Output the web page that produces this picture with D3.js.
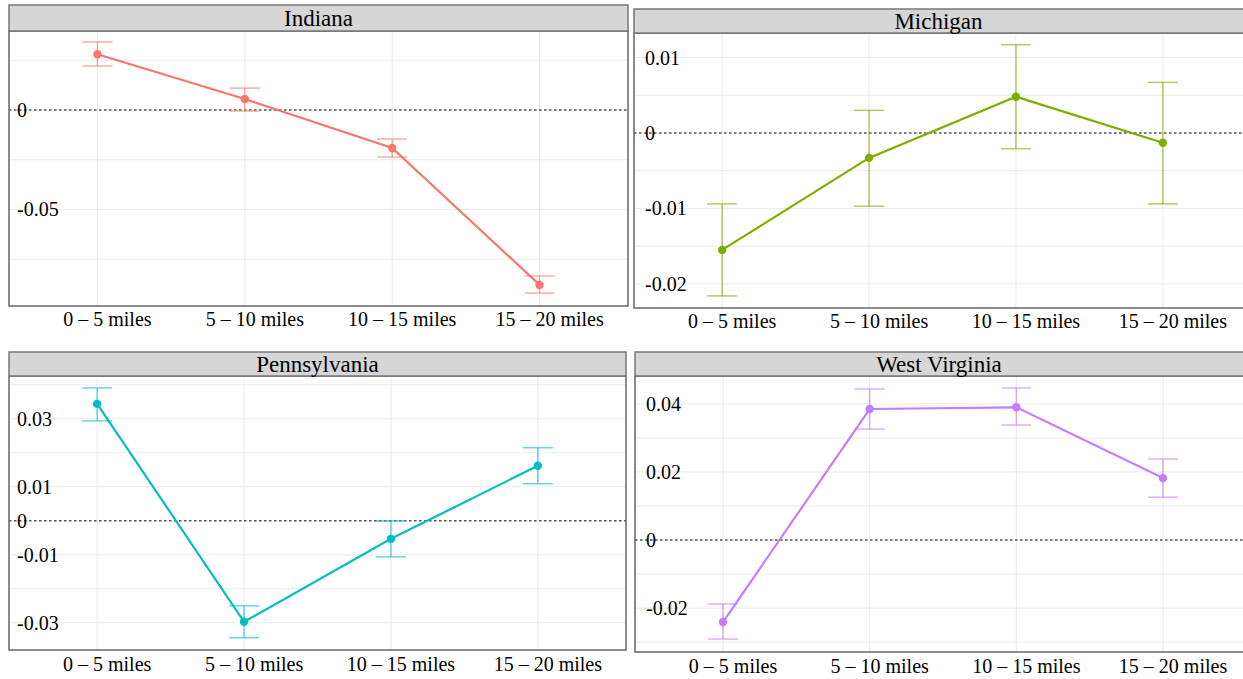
<!DOCTYPE html>
<html lang="en">

<head>
    <meta charset="UTF-8">
    <script src="https://d3js.org/d3.v7.min.js"></script>
    <style>
        html,
        body {
            margin: 0;
            padding: 0;
            background: #fff;
            overflow: hidden
        }

        svg text {
            font-family: "Liberation Serif", "Times New Roman", serif;
            fill: #000;
        }

        .grid line {
            stroke: #ebebeb;
            stroke-width: 1px;
        }

        .zero {
            stroke: #555;
            stroke-width: 1.4px;
            stroke-dasharray: 2.5 2.5;
        }

        .strip rect {
            fill: #d6d6d6;
            stroke: #777;
            stroke-width: 1.5px;
        }

        .frame {
            fill: none;
            stroke: #666;
            stroke-width: 1.5px;
        }
    </style>
</head>

<body>
    <svg id="chart" width="1243" height="679"></svg>
    <script>
        const categories = ["0 – 5 miles", "5 – 10 miles", "10 – 15 miles", "15 – 20 miles"];
        const states = ["Indiana", "Michigan", "Pennsylvania", "West Virginia"];
        const colors = ["#F8766D", "#7CAE00", "#00BFC4", "#C77CFF"];

        // point estimates and interval ends, per state
        const indianaEst = [0.0280, 0.0055, -0.0191, -0.0879];
        const indianaLow = [0.0221, -0.0005, -0.0236, -0.0920];
        const indianaHigh = [0.0342, 0.0110, -0.0146, -0.0834];

        const michiganEst = [-0.0155, -0.0033, 0.0048, -0.0013];
        const michiganLow = [-0.0216, -0.0097, -0.0021, -0.0094];
        const michiganHigh = [-0.0094, 0.0030, 0.0117, 0.0067];

        const pennEst = [0.0344, -0.0297, -0.0053, 0.0162];
        const pennLow = [0.0294, -0.0344, -0.0106, 0.0109];
        const pennHigh = [0.0391, -0.0250, 0.0000, 0.0215];

        const wvEst = [-0.0241, 0.0385, 0.0390, 0.0182];
        const wvLow = [-0.0291, 0.0326, 0.0338, 0.0126];
        const wvHigh = [-0.0188, 0.0444, 0.0447, 0.0238];

        // y axis limits, grid lines and labelled ticks
        const indianaLimits = [-0.0985, 0.0397];
        const michiganLimits = [-0.0232, 0.01325];
        const pennLimits = [-0.0380, 0.0426];
        const wvLimits = [-0.0329, 0.0482];

        const indianaGrid = [0.025, 0, -0.025, -0.05, -0.075];
        const michiganGrid = [0.01, 0.005, 0, -0.005, -0.01, -0.015, -0.02];
        const pennGrid = [0.04, 0.03, 0.02, 0.01, 0, -0.01, -0.02, -0.03];
        const wvGrid = [0.04, 0.03, 0.02, 0.01, 0, -0.01, -0.02, -0.03];

        const indianaTicks = [0, -0.05];
        const michiganTicks = [0.01, 0, -0.01, -0.02];
        const pennTicks = [0.03, 0.01, 0, -0.01, -0.03];
        const wvTicks = [0.04, 0.02, 0, -0.02];

        const series = [
            { est: indianaEst, low: indianaLow, high: indianaHigh, lim: indianaLimits, grid: indianaGrid, ticks: indianaTicks },
            { est: michiganEst, low: michiganLow, high: michiganHigh, lim: michiganLimits, grid: michiganGrid, ticks: michiganTicks },
            { est: pennEst, low: pennLow, high: pennHigh, lim: pennLimits, grid: pennGrid, ticks: pennTicks },
            { est: wvEst, low: wvLow, high: wvHigh, lim: wvLimits, grid: wvGrid, ticks: wvTicks }
        ];

        // panel boxes (the picture is a collage, so they are not quite aligned)
        const panels = [
            { x0: 9, x1: 628, top: 5, strip: 26, bottom: 306, labelY: 319 },
            { x0: 634, x1: 1251, top: 9, strip: 24, bottom: 308, labelY: 321 },
            { x0: 9, x1: 626, top: 352, strip: 24, bottom: 650, labelY: 664 },
            { x0: 635, x1: 1251, top: 352, strip: 24, bottom: 652, labelY: 666 }
        ];

        const svg = d3.select("#chart");
        // plain hyphen for negatives, as in the original
        const fmt = d => String(d);

        states.forEach((name, i) => {
            const p = panels[i], s = series[i], col = colors[i];
            const plotTop = p.top + p.strip;
            const right = Math.min(p.x1, 1243);

            const x = d3.scalePoint().domain(categories).range([p.x0, p.x1]).padding(0.6);
            const y = d3.scaleLinear().domain(s.lim).range([p.bottom, plotTop]);

            const g = svg.append("g");

            const grid = g.append("g").attr("class", "grid");
            grid.selectAll(".h").data(s.grid).join("line")
                .attr("x1", p.x0).attr("x2", right)
                .attr("y1", d => y(d)).attr("y2", d => y(d));
            grid.selectAll(".v").data(categories).join("line")
                .attr("x1", d => x(d)).attr("x2", d => x(d))
                .attr("y1", plotTop).attr("y2", p.bottom);

            g.append("line").attr("class", "zero")
                .attr("x1", p.x0).attr("x2", right)
                .attr("y1", y(0)).attr("y2", y(0));

            // y labels sit inside the panel
            g.selectAll(".yt").data(s.ticks).join("text")
                .attr("x", p.x0 + (i % 2 === 0 ? 8 : 11))
                .attr("y", d => y(d))
                .attr("dy", "0.35em")
                .attr("font-size", 20)
                .text(fmt);

            const pts = categories.map((c, k) => ({ c, est: s.est[k], low: s.low[k], high: s.high[k] }));

            const bars = g.append("g")
                .attr("stroke", col).attr("stroke-width", 1.4).attr("stroke-opacity", 0.65);
            bars.selectAll(".stem").data(pts).join("line")
                .attr("x1", d => x(d.c)).attr("x2", d => x(d.c))
                .attr("y1", d => y(d.low)).attr("y2", d => y(d.high));
            bars.selectAll(".capLo").data(pts).join("line")
                .attr("x1", d => x(d.c) - 15).attr("x2", d => x(d.c) + 15)
                .attr("y1", d => y(d.low)).attr("y2", d => y(d.low));
            bars.selectAll(".capHi").data(pts).join("line")
                .attr("x1", d => x(d.c) - 15).attr("x2", d => x(d.c) + 15)
                .attr("y1", d => y(d.high)).attr("y2", d => y(d.high));

            g.append("path").datum(pts)
                .attr("fill", "none").attr("stroke", col).attr("stroke-width", 2.2)
                .attr("d", d3.line().x(d => x(d.c)).y(d => y(d.est)));

            g.selectAll(".pt").data(pts).join("circle")
                .attr("cx", d => x(d.c)).attr("cy", d => y(d.est))
                .attr("r", 4.2).attr("fill", col);

            g.append("rect").attr("class", "frame")
                .attr("x", p.x0).attr("y", plotTop)
                .attr("width", p.x1 - p.x0).attr("height", p.bottom - plotTop);

            const strip = g.append("g").attr("class", "strip");
            strip.append("rect")
                .attr("x", p.x0).attr("y", p.top)
                .attr("width", p.x1 - p.x0).attr("height", p.strip);
            strip.append("text")
                .attr("x", (p.x0 + p.x1) / 2 - (i % 2 === 1 ? 4 : 0))
                .attr("y", p.top + p.strip / 2)
                .attr("dy", "0.36em")
                .attr("text-anchor", "middle")
                .attr("font-size", 23)
                .text(name);

            g.selectAll(".xl").data(categories).join("text")
                .attr("x", d => x(d) + 10)
                .attr("y", p.labelY)
                .attr("dy", "0.35em")
                .attr("text-anchor", "middle")
                .attr("font-size", 20)
                .text(d => d);
        });
    </script>
</body>

</html>
